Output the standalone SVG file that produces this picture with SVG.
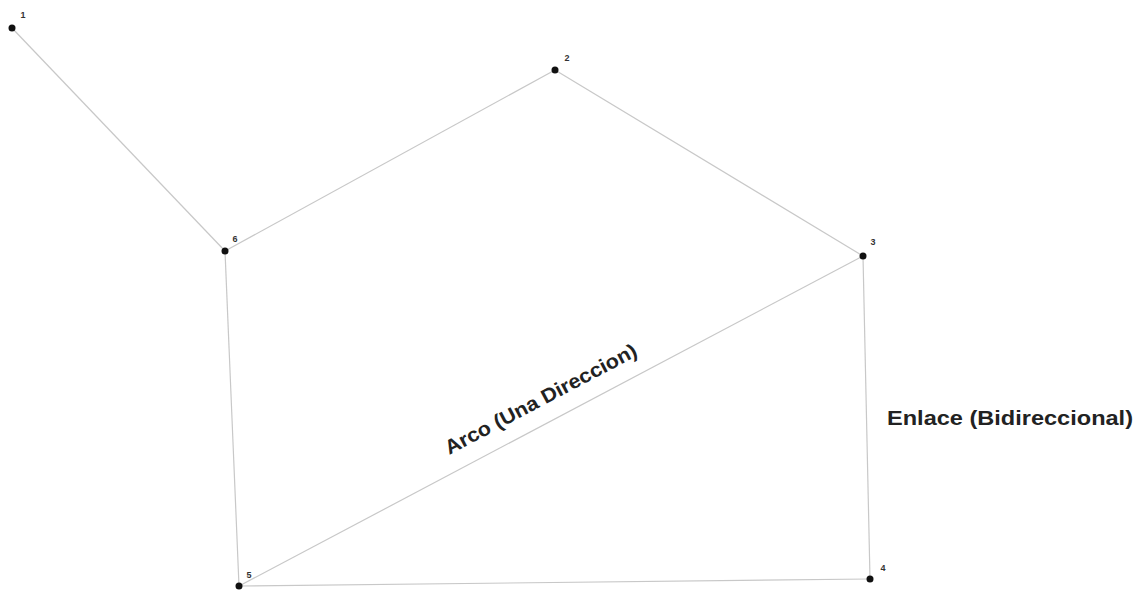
<svg xmlns="http://www.w3.org/2000/svg" width="1141" height="592" viewBox="0 0 1141 592">
<style>
.edge{stroke:#c8c8c8;stroke-width:1.2;fill:none}
.dot{fill:#111}
.nl{font-family:"Liberation Sans",Arial,sans-serif;font-size:9px;font-weight:bold;fill:#333;text-anchor:middle}
.el{font-family:"Liberation Sans",Arial,sans-serif;font-size:20px;font-weight:bold;fill:#222}
</style>
<rect width="1141" height="592" fill="#fff"/>
<g id="connectors">
<line class="edge" x1="12" y1="28" x2="225" y2="251"/>
<line class="edge" x1="225" y1="251" x2="555" y2="70"/>
<line class="edge" x1="555" y1="70" x2="863" y2="256"/>
<line class="edge" x1="225" y1="251" x2="239" y2="586"/>
<line class="edge" x1="863" y1="256" x2="870" y2="579"/>
<line class="edge" x1="239" y1="586" x2="870" y2="579"/>
<line class="edge" x1="239" y1="586" x2="863" y2="256"/>
<text class="el" x="544" y="405" text-anchor="middle" textLength="214" lengthAdjust="spacingAndGlyphs" transform="rotate(-27.8 544 405)">Arco (Una Direccion)</text>
<text class="el" x="887" y="425" textLength="246" lengthAdjust="spacingAndGlyphs">Enlace (Bidireccional)</text>
</g>
<g id="node1"><circle class="dot" cx="12" cy="28" r="3.5"/><text class="nl" x="23" y="18">1</text></g>
<g id="node2"><circle class="dot" cx="555" cy="70" r="3.5"/><text class="nl" x="567" y="61">2</text></g>
<g id="node6"><circle class="dot" cx="225" cy="251" r="3.5"/><text class="nl" x="235" y="242">6</text></g>
<g id="node3"><circle class="dot" cx="863" cy="256" r="3.5"/><text class="nl" x="873" y="245">3</text></g>
<g id="node5"><circle class="dot" cx="239" cy="586" r="3.5"/><text class="nl" x="249" y="578">5</text></g>
<g id="node4"><circle class="dot" cx="870" cy="579" r="3.5"/><text class="nl" x="883" y="571">4</text></g>
</svg>
